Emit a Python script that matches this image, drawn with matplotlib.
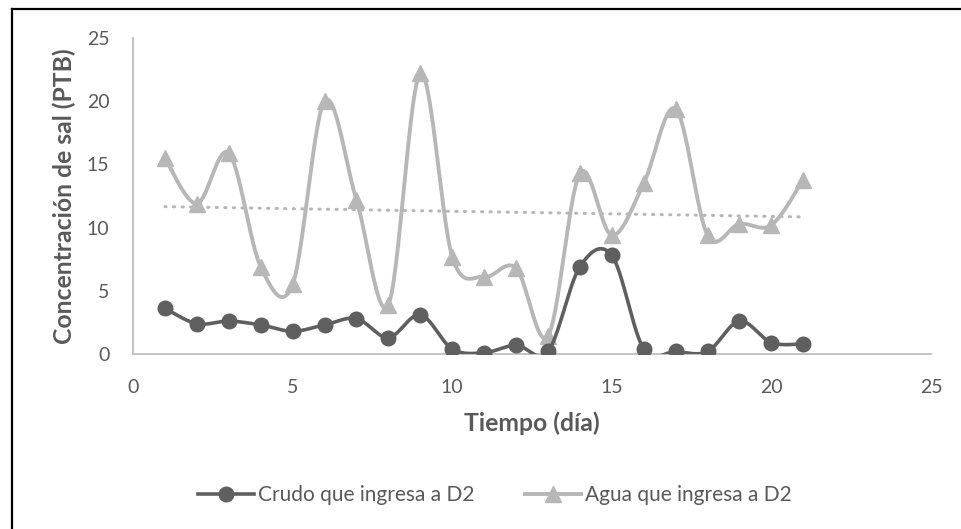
import matplotlib.pyplot as plt
import numpy as np
from matplotlib.lines import Line2D

plt.rcParams['font.family'] = ['Lato', 'DejaVu Sans']

# datos
dias = [1, 2, 3, 4, 5, 6, 7, 8, 9, 10, 11, 12, 13, 14, 15, 16, 17, 18, 19, 20, 21]
crudo = [3.6, 2.4, 2.6, 2.3, 1.8, 2.3, 2.8, 1.3, 3.1, 0.4, 0.1, 0.7, 0.2, 6.9, 7.8, 0.4, 0.2, 0.2, 2.6, 0.9, 0.8]
agua = [15.5, 11.9, 15.9, 6.9, 5.5, 20.0, 12.2, 3.9, 22.2, 7.7, 6.1, 6.8, 1.4, 14.3, 9.4, 13.5, 19.4, 9.4, 10.3, 10.2, 13.8]
etiquetas = ['Crudo que ingresa a D2', 'Agua que ingresa a D2']

c_crudo = '#5f5f5f'
c_agua = '#b7b7b7'
c_texto = '#595959'


def suavizar(x, y, n=30):
    # curva suavizada tipo Excel (Bezier / Catmull-Rom)
    x = np.asarray(x, float)
    y = np.asarray(y, float)
    px = np.concatenate([[x[0]], x, [x[-1]]])
    py = np.concatenate([[y[0]], y, [y[-1]]])
    t = np.linspace(0, 1, n)[:, None]
    xs, ys = [], []
    for i in range(1, len(px) - 2):
        p0 = np.array([px[i], py[i]])
        p3 = np.array([px[i + 1], py[i + 1]])
        p1 = p0 + (p3 - np.array([px[i - 1], py[i - 1]])) / 6
        p2 = p3 - (np.array([px[i + 2], py[i + 2]]) - p0) / 6
        b = (1 - t) ** 3 * p0 + 3 * (1 - t) ** 2 * t * p1 + 3 * (1 - t) * t ** 2 * p2 + t ** 3 * p3
        xs.append(b[:, 0])
        ys.append(b[:, 1])
    return np.concatenate(xs), np.concatenate(ys)


fig = plt.figure(figsize=(9.61, 5.29), dpi=100)
ax = fig.add_axes([133 / 961, 1 - 354 / 529, (931 - 133) / 961, (354 - 38) / 529])

# línea de tendencia lineal del agua
m, b = np.polyfit(dias, agua, 1)
xt = np.array([dias[0], dias[-1]])
ax.plot(xt, m * xt + b, color=c_agua, lw=2.2, linestyle=(0, (0.4, 2.4)), dash_capstyle='round', zorder=1)

sx, sy = suavizar(dias, agua)
ax.plot(sx, sy, color=c_agua, lw=2.8, zorder=2)
ax.plot(dias, agua, '^', color=c_agua, markersize=11, zorder=3)

sx, sy = suavizar(dias, crudo)
ax.plot(sx, sy, color=c_crudo, lw=2.6, zorder=4)
ax.plot(dias, crudo, 'o', color=c_crudo, markersize=10.5, zorder=5)

ax.set_xlim(0, 25)
ax.set_ylim(0, 25)
ax.set_xticks(range(0, 26, 5))
ax.set_yticks(range(0, 26, 5))
ax.tick_params(length=0, labelsize=14, colors=c_texto)
ax.tick_params(axis='x', pad=18)
ax.tick_params(axis='y', pad=17)
for s in ['top', 'right']:
    ax.spines[s].set_visible(False)
for s in ['left', 'bottom']:
    ax.spines[s].set_color('#bfbfbf')
    ax.spines[s].set_linewidth(1.3)

ax.set_xlabel('Tiempo (día)', fontsize=17.8, fontweight='bold', color=c_texto)
ax.set_ylabel('Concentración de sal (PTB)', fontsize=17.8, fontweight='bold', color=c_texto)
ax.xaxis.set_label_coords(0.5, -(411 - 354) / 316)
ax.yaxis.set_label_coords(-(133 - 76) / 798, 0.5)

handles = [
    Line2D([], [], color=c_crudo, lw=2.6, marker='o', markersize=10.5),
    Line2D([], [], color=c_agua, lw=2.8, marker='^', markersize=11),
]
fig.legend(handles, etiquetas, loc='center', bbox_to_anchor=(495 / 961, 1 - 495 / 529), ncol=2,
           frameon=False, fontsize=15, labelcolor=c_texto, handlelength=2.7,
           handletextpad=0.2, columnspacing=2.4, numpoints=1)

# borde de la imagen (izquierda y arriba)
fig.add_artist(Line2D([11.5 / 961, 11.5 / 961], [0, 1 - 8.5 / 529], color='black', lw=1.6))
fig.add_artist(Line2D([11.5 / 961, 1], [1 - 8.5 / 529, 1 - 8.5 / 529], color='black', lw=1.6))

fig.savefig('out.png', dpi=100)
